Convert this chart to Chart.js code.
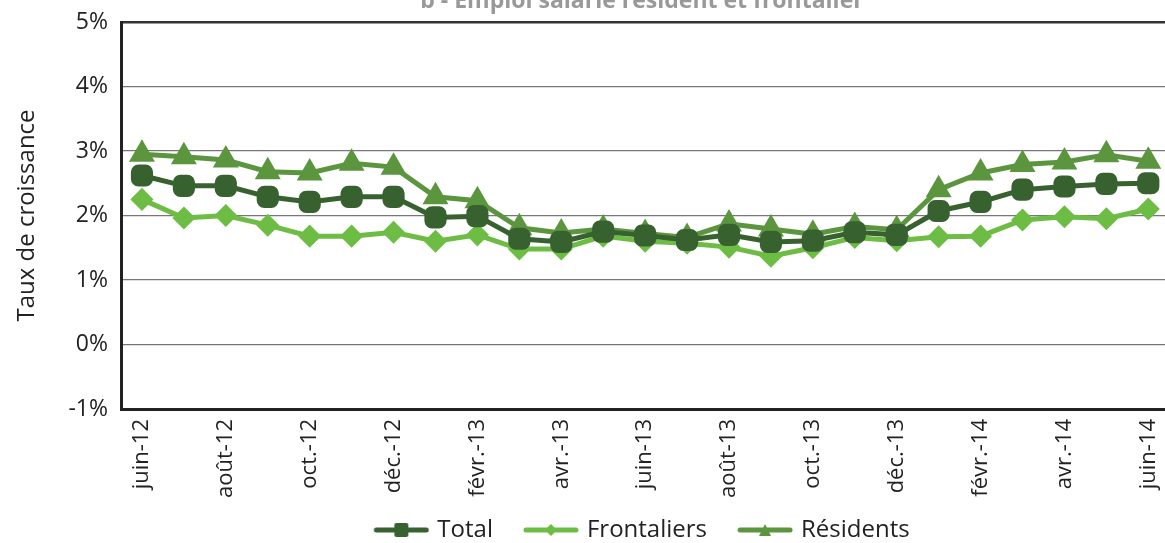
<!DOCTYPE html>
<html>
<head>
<meta charset="utf-8">
<script src="https://cdn.jsdelivr.net/npm/chart.js@4"></script>
<style>
  html, body { margin: 0; padding: 0; background: #fff; overflow: hidden; }
  #wrap { position: absolute; left: 0; top: 0; width: 1185px; height: 543px; }
</style>
</head>
<body>
<div id="wrap"><canvas id="growthChart"></canvas></div>
<script>
const months = ["juin-12", "juil.-12", "août-12", "sept.-12", "oct.-12", "nov.-12", "déc.-12",
    "janv.-13", "févr.-13", "mars-13", "avr.-13", "mai-13", "juin-13", "juil.-13", "août-13",
    "sept.-13", "oct.-13", "nov.-13", "déc.-13", "janv.-14", "févr.-14", "mars-14", "avr.-14",
    "mai-14", "juin-14"];
const total = [2.62, 2.46, 2.46, 2.29, 2.21, 2.29, 2.29, 1.97, 1.99, 1.64, 1.59, 1.75, 1.69,
    1.62, 1.70, 1.59, 1.61, 1.74, 1.70, 2.07, 2.21, 2.40, 2.45, 2.49, 2.50];
const frontaliers = [2.25, 1.96, 2.00, 1.85, 1.68, 1.68, 1.74, 1.60, 1.70, 1.48, 1.48, 1.68,
    1.60, 1.57, 1.51, 1.37, 1.50, 1.66, 1.61, 1.67, 1.68, 1.93, 1.98, 1.95, 2.10];
const residents = [2.95, 2.91, 2.86, 2.68, 2.66, 2.81, 2.75, 2.29, 2.23, 1.81, 1.73, 1.79,
    1.72, 1.66, 1.87, 1.79, 1.71, 1.83, 1.78, 2.40, 2.66, 2.79, 2.83, 2.94, 2.84];
const yTicks = [-1, 0, 1, 2, 3, 4, 5];

const colTotal = "#37622f";
const colFront = "#6dbd45";
const colRes = "#5b963f";

// legend symbol: transparent gap on the left, then a line with the marker on it
const SYM_GAP = 26;
function legendSymbol(color, style) {
    const c = document.createElement("canvas");
    c.width = SYM_GAP + 56; c.height = 18;
    const g = c.getContext("2d");
    g.translate(SYM_GAP, 0);
    g.strokeStyle = color;
    g.fillStyle = color;
    g.lineWidth = 5;
    g.lineCap = "round";
    g.beginPath(); g.moveTo(3, 9); g.lineTo(53, 9); g.stroke();
    g.beginPath();
    if (style === "square") {
        g.roundRect(21, 2, 14, 14, 2);
    } else if (style === "diamond") {
        g.moveTo(28, 3); g.lineTo(34, 9); g.lineTo(28, 15); g.lineTo(22, 9);
    } else {
        g.moveTo(28, 3); g.lineTo(34, 15); g.lineTo(22, 15);
    }
    g.closePath(); g.fill();
    return c;
}

const titlePlugin = {
    id: "topTitle",
    afterLayout(chart) {
        // legend sits a bit right of the canvas centre and lower
        chart.legend.left += 38;
        chart.legend.right += 38;
        chart.legend.top += 9;
        chart.legend.bottom += 9;
    },
    afterDraw(chart) {
        const ctx = chart.ctx;
        ctx.save();
        ctx.font = "bold 23px 'Open Sans'";
        ctx.fillStyle = "#999";
        ctx.textAlign = "center";
        ctx.textBaseline = "middle";
        ctx.fillText("b - Emploi salarié résident et frontalier", 642, 1);
        ctx.restore();
    }
};

const ctx = document.getElementById("growthChart").getContext("2d");

new Chart(ctx, {
    type: "line",
    data: {
        labels: months,
        datasets: [{
            label: "Total",
            data: total,
            borderColor: colTotal,
            backgroundColor: colTotal,
            borderWidth: 5,
            pointStyle: "rectRounded",
            pointRadius: 10,
            legendSymbol: legendSymbol(colTotal, "square")
        }, {
            label: "Frontaliers",
            data: frontaliers,
            borderColor: colFront,
            backgroundColor: colFront,
            borderWidth: 5,
            pointStyle: "rectRot",
            pointRadius: 8,
            legendSymbol: legendSymbol(colFront, "diamond")
        }, {
            label: "Résidents",
            data: residents,
            borderColor: colRes,
            backgroundColor: colRes,
            borderWidth: 5,
            pointStyle: "triangle",
            pointRadius: 10,
            legendSymbol: legendSymbol(colRes, "triangle")
        }]
    },
    options: {
        responsive: true,
        maintainAspectRatio: false,
        animation: false,
        layout: { padding: { top: 22, left: 0, right: 0, bottom: 0 } },
        plugins: {
            tooltip: { enabled: false },
            legend: {
                position: "bottom",
                labels: {
                    usePointStyle: true,
                    pointStyleWidth: SYM_GAP + 56 - 8,
                    padding: 8,
                    color: "#222",
                    font: { family: "'Open Sans'", size: 24 },
                    generateLabels(chart) {
                        return chart.data.datasets.map((ds, i) => ({
                            text: ds.label,
                            pointStyle: ds.legendSymbol,
                            fillStyle: ds.borderColor,
                            strokeStyle: ds.borderColor,
                            lineWidth: 0,
                            fontColor: "#222",
                            datasetIndex: i
                        }));
                    }
                }
            }
        },
        scales: {
            x: {
                offset: true,
                afterFit(scale) { scale.height = 92; },
                grid: { display: false, drawTicks: false },
                border: { color: "#222", width: 3 },
                ticks: {
                    autoSkip: false,
                    maxRotation: 90,
                    minRotation: 90,
                    padding: 10,
                    color: "#222",
                    font: { family: "'Open Sans'", size: 22 },
                    callback: function (v, i) { return i % 2 === 0 ? months[i] : ""; }
                }
            },
            y: {
                min: -1,
                max: 5,
                afterBuildTicks(scale) { scale.ticks = yTicks.map(v => ({ value: v })); },
                afterFit(scale) {
                    scale.width = 121;
                    scale.paddingTop = 0;
                    scale.paddingBottom = 0;
                },
                grid: {
                    drawTicks: false,
                    color: (c) => c.tick && c.tick.value === 5 ? "#333" : "#777",
                    lineWidth: (c) => c.tick && c.tick.value === 5 ? 2.5 : 1.2
                },
                border: { color: "#222", width: 3 },
                ticks: {
                    padding: 13,
                    color: "#222",
                    font: { family: "'Open Sans'", size: 23 },
                    callback: (v) => v + "%"
                },
                title: {
                    display: true,
                    text: "Taux de croissance",
                    color: "#222",
                    font: { family: "'Open Sans'", size: 24 },
                    padding: { top: 13, bottom: 0 }
                }
            }
        }
    },
    plugins: [titlePlugin]
});
</script>
</body>
</html>
